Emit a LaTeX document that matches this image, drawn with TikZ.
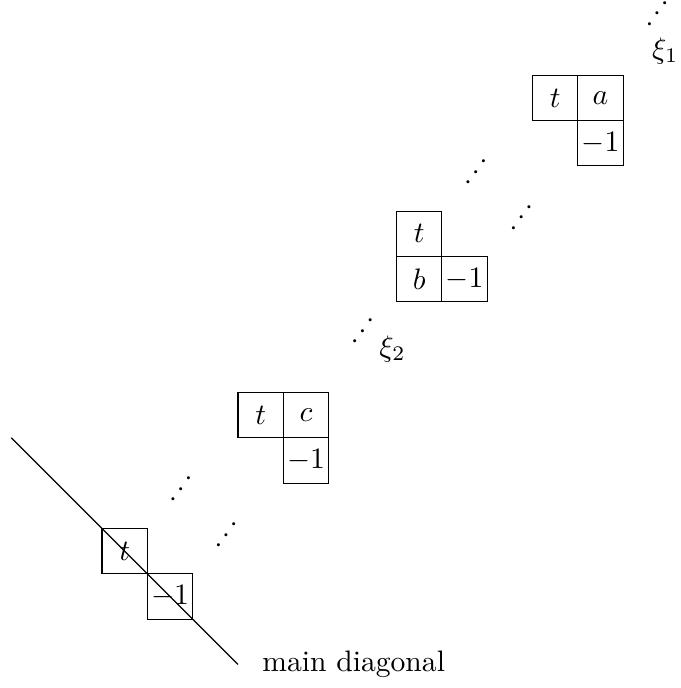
\documentclass[tikz,border=0pt]{standalone}
\usetikzlibrary{positioning}
\tikzset{cell/.style={draw, minimum size=15.3pt, inner sep=0pt, outer sep=0pt}}
\tikzset{updots/.style={rotate=54, inner sep=0pt}}

\begin{document}
\begin{tikzpicture}[x=15.3pt, y=15.3pt]
    \useasboundingbox (-0.25, -0.52) rectangle (14.76, 14.66);
    \coordinate (diagStart) at (0, 5);
    \coordinate (diagEnd) at (5, 0);
    \draw (diagStart) -- (diagEnd);
    \node[right=4.7pt of diagEnd] (diagLabel) {main diagonal};
    \node[cell] (mainT) at (2.5, 2.5) {$t$};
    \node[cell, below right=0pt of mainT] (mainM) {$-1$};
    \node[cell] (cT) at (5.5, 5.5) {$t$};
    \node[cell, right=0pt of cT] (cC) {$c$};
    \node[cell, below=0pt of cC] (cM) {$-1$};
    \node[cell] (bT) at (9, 9.5) {$t$};
    \node[cell, below=0pt of bT] (bB) {$b$};
    \node[cell, right=0pt of bB] (bM) {$-1$};
    \node[cell] (aT) at (12, 12.5) {$t$};
    \node[cell, right=0pt of aT] (aA) {$a$};
    \node[cell, below=0pt of aA] (aM) {$-1$};
    \node[updots] (dotsA) at (3.74, 3.87) {$.\,.\,.$};
    \node[updots] (dotsB) at (4.74, 2.86) {$.\,.\,.$};
    \node[updots] (dotsC) at (7.75, 7.36) {$.\,.\,.$};
    \node[updots] (dotsD) at (11.25, 9.86) {$.\,.\,.$};
    \node[updots] (dotsE) at (10.25, 10.87) {$.\,.\,.$};
    \node[updots] (dotsF) at (14.25, 14.36) {$.\,.\,.$};
    \node (xiOne) at (14.43, 13.54) {$\xi_1$};
    \node (xiTwo) at (8.41, 6.96) {$\xi_2$};
\end{tikzpicture}
\end{document}
